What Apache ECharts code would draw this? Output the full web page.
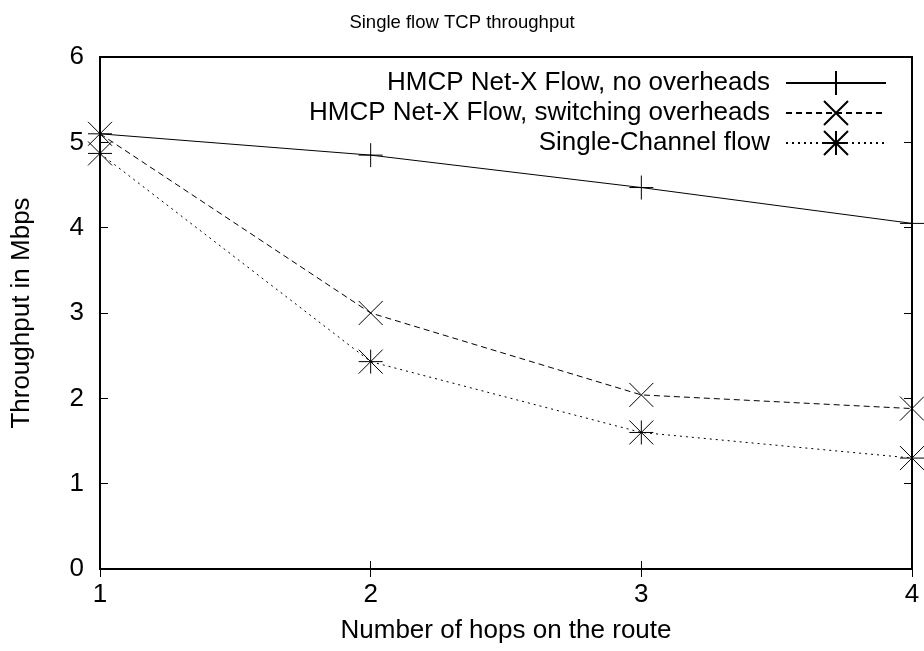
<!DOCTYPE html>
<html><head><meta charset="utf-8">
<script src="https://cdn.jsdelivr.net/npm/echarts@6/dist/echarts.min.js"></script>
<style>html,body{margin:0;padding:0;background:#fff}#c{width:924px;height:651px}</style>
</head><body><div id="c"></div>
<script>
const hops = [1, 2, 3, 4];
const noOverheads = [5.10, 4.85, 4.47, 4.05];
const switchingOverheads = [5.10, 3.00, 2.04, 1.88];
const singleChannel = [4.87, 2.43, 1.60, 1.30];
const seriesNames = ['HMCP Net-X Flow, no overheads', 'HMCP Net-X Flow, switching overheads', 'Single-Channel flow'];
const xTicks = [1, 2, 3, 4];
const yTicks = [0, 1, 2, 3, 4, 5, 6];

const FONT = 'Liberation Sans, Arial, sans-serif';
const PLUS = 'path://M0,12L24,12M12,0L12,24';
const CROSS = 'path://M0,0L24,24M24,0L0,24';
const STAR = 'path://M0,0L24,24M24,0L0,24M0,12L24,12M12,0L12,24';

function pairs(vals){ return hops.map((h,i)=>[h, vals[i]]); }
function mk(name, vals, sym, dash){
  return {
    name, type:'line', data: pairs(vals), symbol: sym, symbolSize: 24,
    showSymbol:true, clip:false, animation:false,
    lineStyle:{color:'#000', width:1, type: dash},
    itemStyle:{color:'rgba(0,0,0,0)', borderColor:'#000', borderWidth:1}
  };
}
const chart = echarts.init(document.getElementById('c'), null, {renderer:'canvas'});
const axisCommon = {
  axisLine:{show:true, lineStyle:{color:'#000', width:2}},
  axisTick:{show:true, inside:true, length:8, lineStyle:{color:'#000', width:1}},
  splitLine:{show:false}
};
chart.setOption({
  animation:false,
  backgroundColor:'#fff',
  title:{text:'Single flow TCP throughput', left:'center', top:8,
    textStyle:{fontFamily:FONT, fontSize:18.5, fontWeight:'normal', color:'#000'}},
  legend:{
    data: seriesNames, orient:'vertical', right:37, top:70, align:'right',
    itemWidth:100, itemHeight:30, itemGap:4, padding:0,
    textStyle:{fontFamily:FONT, fontSize:26, color:'#000', padding:[0,11,0,0]},
    selectedMode:false
  },
  grid:{left:100, right:12, top:57, bottom:82, show:true, borderColor:'#000', borderWidth:2},
  xAxis:[
    Object.assign({type:'value', min:1, max:4, interval:1, position:'bottom',
      name:'Number of hops on the route', nameLocation:'middle', nameGap:49,
      nameTextStyle:{fontFamily:FONT, fontSize:26, color:'#000'},
      axisLabel:{fontFamily:FONT, fontSize:26, color:'#000', margin:13}}, axisCommon),
    Object.assign({type:'value', min:1, max:4, interval:1, position:'top',
      axisLabel:{show:false}}, axisCommon)
  ],
  yAxis:[
    Object.assign({type:'value', min:0, max:6, interval:1, position:'left',
      name:'Throughput in Mbps', nameLocation:'middle', nameGap:65,
      nameTextStyle:{fontFamily:FONT, fontSize:26, color:'#000'},
      axisLabel:{fontFamily:FONT, fontSize:26, color:'#000', margin:16}}, axisCommon),
    Object.assign({type:'value', min:0, max:6, interval:1, position:'right',
      axisLabel:{show:false}}, axisCommon)
  ],
  series:[
    mk(seriesNames[0], noOverheads, PLUS, 'solid'),
    mk(seriesNames[1], switchingOverheads, CROSS, [6,4]),
    mk(seriesNames[2], singleChannel, STAR, [2,4])
  ]
});
</script></body></html>
